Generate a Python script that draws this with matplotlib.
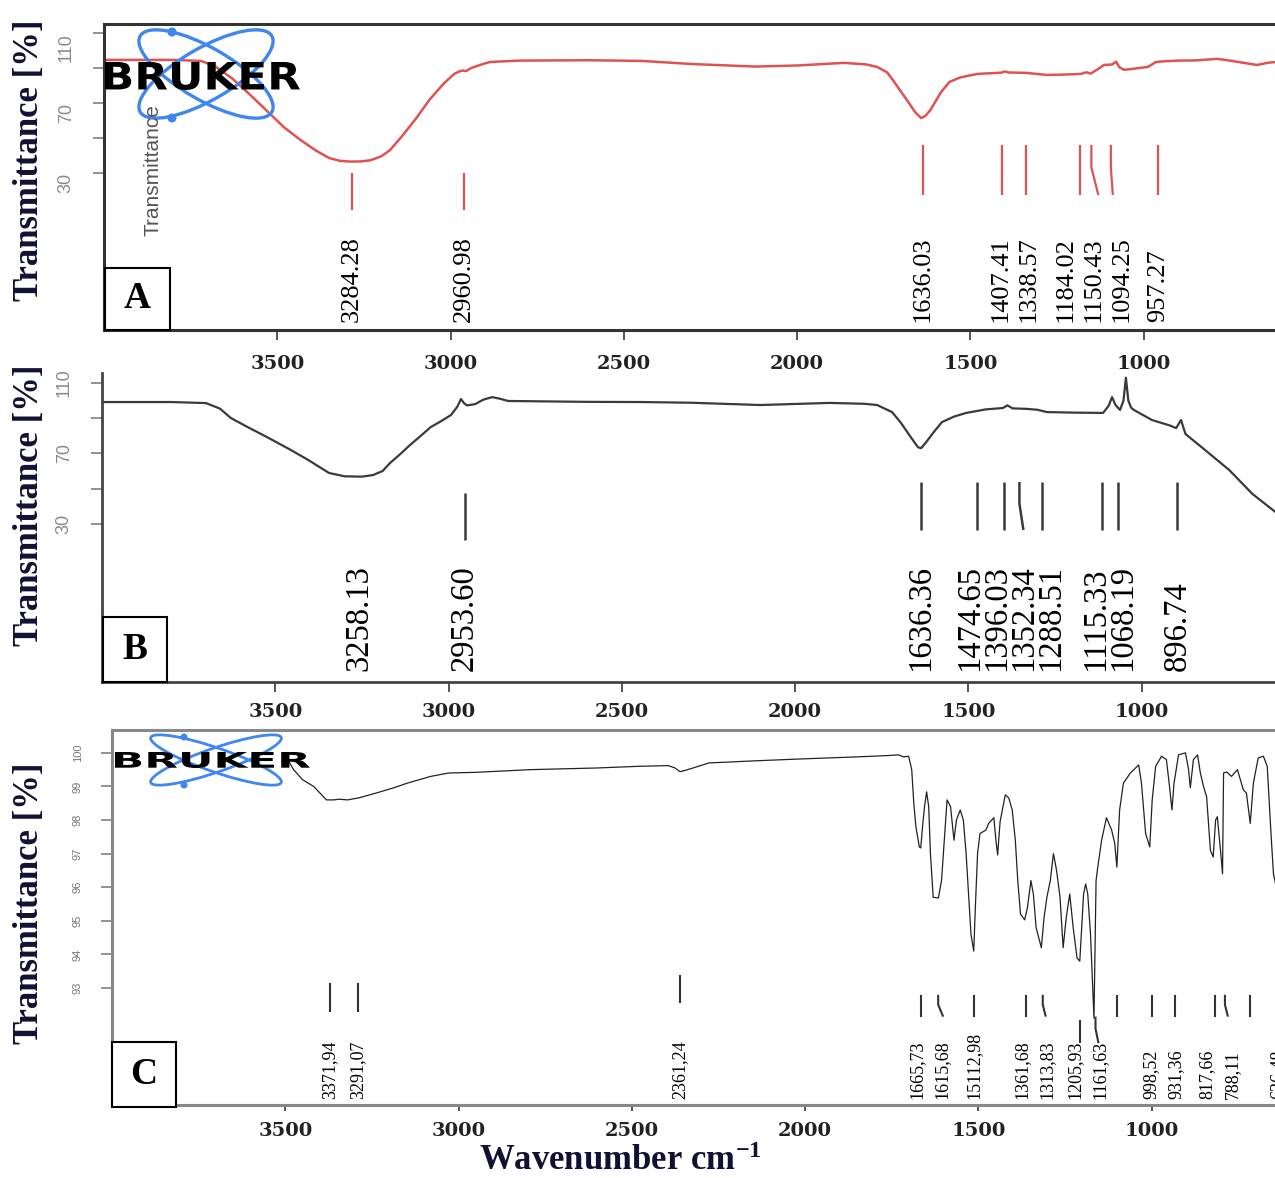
import numpy as np
import matplotlib
matplotlib.use('Agg')
import matplotlib.pyplot as plt
import matplotlib.transforms as mtransforms
from matplotlib.patches import Ellipse, Rectangle, Circle, PathPatch
from matplotlib.textpath import TextPath
from matplotlib.font_manager import FontProperties

plt.rcParams['mathtext.fontset'] = 'custom'
plt.rcParams['mathtext.rm'] = 'Liberation Serif:bold'
plt.rcParams['mathtext.bf'] = 'Liberation Serif:bold'
plt.rcParams['mathtext.default'] = 'bf'

W, H, DPI = 1275, 1178, 100
PX = 0.3465  # pixels per cm-1 on every panel

# ---------------- data ----------------
x_ticks = [3500, 3000, 2500, 2000, 1500, 1000]
ab_yticks = [110, 90, 70, 50, 30]
ab_yticklabels = ['110', '', '70', '', '30']
c_yticks = [100, 99, 98, 97, 96, 95, 94, 93]

# panel A (red spectrum)
a_wn = [3995, 3800, 3720, 3680, 3630, 3580, 3530, 3480, 3434, 3390, 3350, 3320, 3290, 3260,
        3232, 3200, 3175, 3140, 3100, 3060, 3020, 2990, 2975, 2965, 2955, 2940, 2910, 2886,
        2800, 2600, 2447, 2300, 2121, 2000, 1864, 1800, 1769, 1740, 1723, 1700, 1677, 1660,
        1642, 1630, 1615, 1600, 1585, 1560, 1530, 1500, 1478, 1440, 1410, 1400, 1390, 1340,
        1279, 1230, 1181, 1165, 1152, 1130, 1114, 1090, 1079, 1070, 1056, 1030, 987, 964,
        940, 900, 850, 800, 789, 760, 720, 672, 640, 614, 580, 550]
a_tr = [94.6, 94.6, 94.0, 91.0, 84.0, 75.0, 65.5, 56.0, 49.0, 43.0, 38.5, 37.0, 36.5, 36.6,
        37.2, 39.5, 43.0, 51.0, 61.0, 72.0, 81.0, 86.5, 88.0, 88.5, 88.2, 90.0, 92.0, 93.4,
        94.2, 94.4, 94.0, 92.2, 90.8, 91.4, 92.9, 92.0, 90.6, 87.5, 83.0, 76.5, 70.0, 65.0,
        61.4, 62.5, 66.0, 71.0, 76.0, 82.0, 84.5, 85.8, 86.6, 87.0, 87.3, 88.0, 87.4, 87.2,
        86.0, 86.2, 86.6, 87.5, 86.8, 89.5, 91.7, 92.0, 93.6, 90.5, 88.9, 89.5, 90.6, 93.4,
        93.8, 94.2, 94.3, 95.0, 95.2, 94.5, 93.2, 91.7, 93.0, 93.4, 93.6, 93.6]
a_peaks = [3284.28, 2960.98, 1636.03, 1407.41, 1338.57, 1184.02, 1150.43, 1094.25, 957.27]
a_labels = ['3284.28', '2960.98', '1636.03', '1407.41', '1338.57', '1184.02', '1150.43',
            '1094.25', '957.27']

# panel B (grey spectrum)
b_wn = [3995, 3800, 3700, 3660, 3628, 3580, 3524, 3460, 3405, 3345, 3300, 3250, 3218, 3190,
        3169, 3140, 3111, 3080, 3051, 3020, 2993, 2975, 2964, 2955, 2947, 2923, 2900, 2874,
        2850, 2828, 2600, 2442, 2300, 2100, 1900, 1800, 1763, 1720, 1694, 1665, 1645, 1636,
        1625, 1600, 1576, 1540, 1506, 1450, 1400, 1387, 1372, 1330, 1300, 1273, 1200, 1111,
        1095, 1085, 1075, 1062, 1052, 1045, 1038, 1030, 1022, 970, 920, 900, 886, 873, 820,
        747, 680, 609, 560]
b_tr = [99.2, 99.2, 98.6, 95.5, 90.1, 85.0, 79.3, 72.5, 66.3, 58.9, 57.0, 56.8, 57.7, 60.0,
        64.5, 69.5, 74.8, 80.0, 85.0, 88.5, 91.8, 96.4, 100.9, 98.5, 97.3, 98.0, 100.5, 102.0,
        101.0, 99.8, 99.3, 99.2, 98.8, 97.5, 98.7, 98.2, 97.5, 93.5, 87.3, 79.0, 73.5, 73.0,
        75.5, 82.0, 87.8, 91.0, 93.0, 95.0, 95.8, 97.3, 95.6, 95.3, 94.8, 93.5, 93.2, 93.0,
        97.0, 102.0, 97.5, 94.7, 100.0, 113.0, 100.0, 96.0, 94.7, 89.0, 86.0, 84.4, 89.0, 81.0,
        72.5, 60.6, 47.0, 36.0, 28.0]
b_peaks = [3258.13, 2953.60, 1636.36, 1474.65, 1396.03, 1352.34, 1288.51, 1115.33, 1068.19,
           896.74]
b_labels = ['3258.13', '2953.60', '1636.36', '1474.65', '1396.03', '1352.34', '1288.51',
            '1115.33', '1068.19', '896.74']

# panel C (black spectrum)
c_wn = [3490, 3476, 3450, 3418, 3395, 3381, 3360, 3346, 3320, 3288, 3239, 3190, 3147, 3080,
        3029, 2950, 2793, 2600, 2478, 2395, 2375, 2361, 2345, 2323, 2277, 2150, 2009, 1850,
        1760, 1730, 1715, 1701, 1692, 1686, 1680, 1670, 1666, 1660, 1655, 1649, 1643, 1638,
        1630, 1615, 1606, 1598, 1590, 1580, 1570, 1563, 1552, 1543, 1535, 1527, 1521, 1513,
        1508, 1502, 1495, 1478, 1470, 1455, 1449, 1444, 1437, 1422, 1412, 1402, 1393, 1386,
        1378, 1366, 1358, 1348, 1341, 1333, 1318, 1310, 1302, 1292, 1283, 1274, 1264, 1255,
        1246, 1236, 1226, 1215, 1207, 1202, 1196, 1190, 1184, 1176, 1166, 1160, 1155, 1144,
        1130, 1115, 1106, 1100, 1092, 1081, 1061, 1037, 1029, 1017, 1005, 998, 988, 971,
        957, 948, 941, 935, 922, 902, 893, 888, 879, 867, 859, 850, 841, 830, 822, 815, 810,
        800, 795, 792, 783, 769, 752, 735, 726, 715, 706, 692, 677, 666, 654, 648, 640]
c_tr = [99.75, 99.5, 99.2, 99.0, 98.75, 98.6, 98.6, 98.62, 98.6, 98.66, 98.8, 98.95, 99.1, 99.3,
        99.4, 99.42, 99.5, 99.55, 99.6, 99.62, 99.55, 99.44, 99.48, 99.55, 99.7, 99.76, 99.82, 99.88,
        99.92, 99.94, 99.88, 99.9, 99.5, 98.5, 97.8, 97.2, 97.17, 97.9, 98.4, 98.84, 98.4, 97.0,
        95.7, 95.68, 96.2, 97.4, 98.6, 98.4, 97.4, 98.0, 98.3, 98.0, 97.0, 95.6, 94.6, 94.1,
        95.5, 97.0, 97.6, 97.7, 97.9, 98.07, 97.4, 96.96, 97.95, 98.75, 98.66, 98.3, 97.4, 96.2,
        95.2, 95.03, 95.4, 96.2, 95.8, 94.8, 94.2, 95.1, 95.7, 96.2, 97.0, 96.5, 95.7, 94.2,
        95.1, 95.8, 94.8, 93.9, 93.8, 94.7, 95.8, 96.1, 95.8, 94.6, 92.1, 96.2, 96.6, 97.4,
        98.07, 97.7, 97.3, 96.6, 98.3, 99.1, 99.4, 99.64, 99.1, 97.6, 97.2, 98.6, 99.6, 99.9,
        99.8, 99.0, 98.3, 99.1, 99.94, 100.0, 99.5, 98.96, 99.8, 99.94, 99.4, 99.0, 98.7, 97.1, 96.9, 98.0, 98.1,
        97.0, 96.4, 99.4, 99.43, 99.3, 99.5, 98.9, 98.8, 97.9, 99.1, 99.85, 99.9, 99.6, 97.4, 96.4, 96.0]
c_peaks = [3371.94, 3291.07, 2361.24, 1665.73, 1615.68, 1512.98, 1361.68, 1313.83, 1205.93,
           1161.63, 1100, 998.52, 931.36, 817.66, 788.11, 715, 636.48]
c_labels = ['3371,94', '3291,07', '2361,24', '1665,73', '1615,68', '15112,98', '1361,68',
            '1313,83', '1205,93', '1161,63', '', '998,52', '931,36', '817,66', '788,11', '',
            '636,48']

# ---------------- layout of peak leader lines ----------------
a_top = [30, 30] + [46] * 7
a_bot = [8.9, 8.9] + [17.4] * 7
a_kink = [0, 0, 0, 0, 0, 0, 7, 2, 0]
b_top = [None, 47.5] + [53.75] * 8
b_bot = [None, 20.8] + [26.5] * 8
b_kink = [0, 0, 0, 0, 0, 4, 0, 0, 0, 0]
c_top = [93.15, 93.15, 93.4] + [92.8] * 5 + [92.05, 92.15] + [92.8] * 7
c_bot = [92.3, 92.3, 92.55] + [92.15] * 5 + [91.36, 91.36] + [92.15] * 7
c_kink = [0, 0, 0, 0, 5, 0, 0, 3, 0, 3, 0, 0, 0, 0, 3, 0, 0]

fig = plt.figure(figsize=(W / DPI, H / DPI), dpi=DPI)
pixbl = mtransforms.Affine2D().scale(1 / DPI) + fig.dpi_scale_trans


def panel_axes(left, top, bottom):
    return fig.add_axes([left / W, 1 - bottom / H, 3600 * PX / W, (bottom - top) / H])


def spread(wn, sep):
    order = np.argsort(wn)[::-1]
    pos = np.array(wn, float)[order]
    for _ in range(500):
        moved = False
        for i in range(len(pos) - 1):
            gap = pos[i] - pos[i + 1]
            if gap < sep - 1e-6:
                d = (sep - gap) / 2
                pos[i] += d
                pos[i + 1] -= d
                moved = True
        if not moved:
            break
    out = np.empty_like(pos)
    out[order] = pos
    return out


def draw_peaks(ax, peaks, labels, tops, bots, kinks, label_y, fs, sep_px, color, lw):
    for p, t, b, k in zip(peaks, tops, bots, kinks):
        if t is None:
            continue
        mid = t - (t - b) * 0.45
        ax.plot([p, p, p - k / PX], [t, mid, b], color=color, lw=lw, solid_capstyle='butt')
    idx = [i for i, l in enumerate(labels) if l]
    pos = spread([peaks[i] for i in idx], sep_px / PX)
    for j, i in enumerate(idx):
        ax.text(pos[j], label_y, labels[i], rotation=90, ha='center', va='bottom',
                fontsize=fs, family='Liberation Serif', color='black', clip_on=False)


def style(ax, spine_color, spine_lw, show_top, ylim, yticks, ylabels, ytick_fs, ytick_color,
          yva, xlen, xpad):
    ax.set_xlim(4000, 400)
    ax.set_ylim(*ylim)
    ax.spines['right'].set_visible(False)
    ax.spines['top'].set_visible(show_top)
    for s in ('left', 'bottom', 'top'):
        ax.spines[s].set_color(spine_color)
        ax.spines[s].set_linewidth(spine_lw)
    ax.set_xticks(x_ticks, [str(t) for t in x_ticks], fontsize=14, fontweight='bold',
                  family='DejaVu Serif', color='#222222')
    ax.tick_params(axis='x', direction='out', length=xlen, width=1.4, color='#555555', pad=xpad)
    ax.set_yticks(yticks, ylabels, rotation=90, va=yva, fontsize=ytick_fs,
                  family='Liberation Sans', color=ytick_color)
    ax.tick_params(axis='y', direction='out', length=8, width=1.3, color='#888888', pad=13)


def bruker_logo(cx, cy, a, b, ang, dots, box, lw, r):
    blue = '#3f86ef'
    for s in (1, -1):
        fig.add_artist(Ellipse((cx, H - cy), 2 * a, 2 * b, angle=s * ang, fill=False,
                               ec=blue, lw=lw, transform=pixbl))
    for dx, dy in dots:
        fig.add_artist(Circle((dx, H - dy), r, fc=blue, ec='none', transform=pixbl))
    x0, y0, x1, y1 = box
    tp = TextPath((0, 0), 'BRUKER', size=1, prop=FontProperties(family='DejaVu Sans',
                                                               weight='bold'))
    ext = tp.get_extents()
    tr = (mtransforms.Affine2D().translate(-ext.x0, -ext.y0)
          .scale((x1 - x0) / ext.width, (y1 - y0) / ext.height)
          .translate(x0, H - y1) + pixbl)
    fig.add_artist(PathPatch(tp, fc='black', ec='none', transform=tr))


def panel_box(x0, y0, x1, y1, letter):
    fig.add_artist(Rectangle((x0, H - y1), x1 - x0, y1 - y0, fc='white', ec='black', lw=1.5,
                             transform=pixbl))
    fig.text((x0 + x1) / 2 / W, 1 - (y0 + y1) / 2 / H, letter, ha='center', va='center',
             fontsize=27, fontweight='bold', family='Liberation Serif')


# ---------------- panel A ----------------
axA = panel_axes(104, 24, 330)
axA.plot(a_wn, a_tr, color='#e05252', lw=1.8)
style(axA, '#333333', 2.2, True, (-59.7, 115.1), ab_yticks, ab_yticklabels, 13, '#8a8a8a',
      'top', 7, 11)
draw_peaks(axA, a_peaks, a_labels, a_top, a_bot, a_kink, -55, 19, 28, '#e05252', 1.6)

# ---------------- panel B ----------------
axB = panel_axes(102, 373, 682)
axB.plot(b_wn, b_tr, color='#3a3a3a', lw=1.6)
style(axB, '#444444', 2.0, False, (-59.9, 115.7), ab_yticks, ab_yticklabels, 13, '#8a8a8a',
      'center', 7, 8)
draw_peaks(axB, b_peaks, b_labels, b_top, b_bot, b_kink, -53.6, 23.5, 27, '#3a3a3a', 1.8)

# ---------------- panel C ----------------
axC = panel_axes(112, 730, 1105)
axC.plot(c_wn, c_tr, color='#222222', lw=0.9)
style(axC, '#888888', 2.2, True, (89.52, 100.68), c_yticks, [str(t) for t in c_yticks], 8,
      '#777777', 'center', 4, 8)
draw_peaks(axC, c_peaks, c_labels, c_top, c_bot, c_kink, 89.7, 13, 25, '#333333', 1.5)

# ---------------- decorations ----------------
bruker_logo(206, 74, 76, 26, 30, [(172, 32), (172, 118)], (105, 62, 300, 90), 2.4, 4.5)
fig.text(153 / W, 1 - 170 / H, 'Transmittance', rotation=90, ha='center', va='center',
         fontsize=15, family='Liberation Sans', color='#555555')
bruker_logo(216, 760, 69, 12, 19, [(184, 737), (184, 785)], (115, 752, 310, 768), 2.0, 3.5)

panel_box(105, 268, 170, 330, 'A')
panel_box(103, 617, 167, 682, 'B')
panel_box(112, 1042, 176, 1107, 'C')

for yc in (160, 505, 903):
    fig.text(30 / W, 1 - yc / H, 'Transmittance [%]', rotation=90, ha='center', va='center',
             fontsize=25, fontweight='bold', family='Liberation Serif', color='#111133')
fig.text(620 / W, 1 - 1162 / H, 'Wavenumber cm$^{-1}$', ha='center', va='center',
         fontsize=25, fontweight='bold', family='Liberation Serif', color='#111133')

fig.savefig('out.png', dpi=DPI)
